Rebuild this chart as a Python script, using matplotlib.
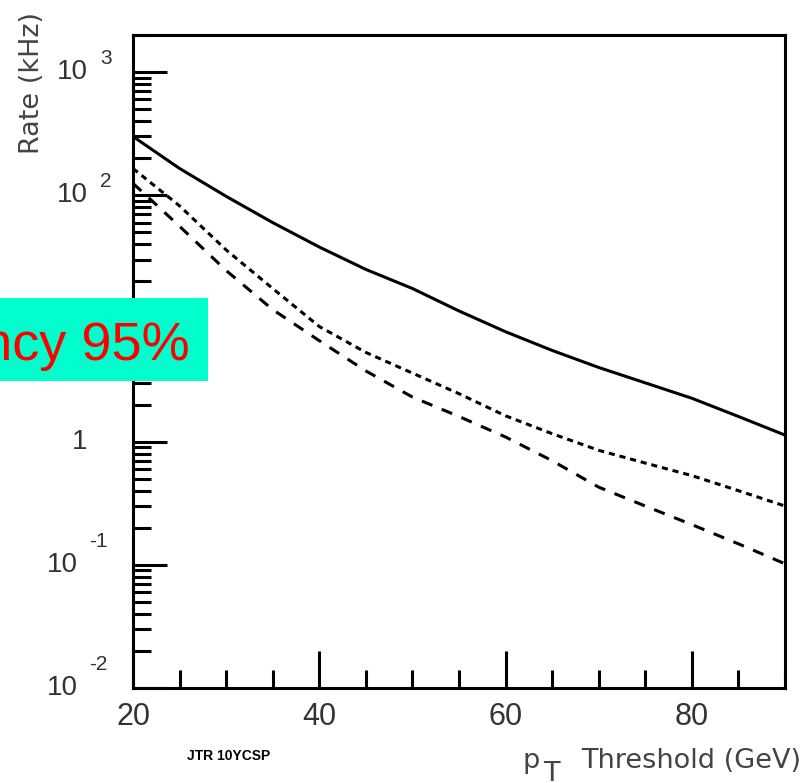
import matplotlib
matplotlib.use('Agg')
import matplotlib.pyplot as plt
from matplotlib.patches import Rectangle
from matplotlib.ticker import FixedLocator, MultipleLocator, NullFormatter
from matplotlib.transforms import blended_transform_factory, offset_copy

# trigger rate vs pT threshold (kHz)
pt_threshold = [20, 25, 30, 35, 40, 45, 50, 55, 60, 65, 70, 75, 80, 85, 90]
rate_top = [300, 165, 98, 60, 38, 25, 17.5, 11.5, 7.8, 5.5, 4.0, 3.0, 2.25, 1.6, 1.13]
rate_mid = [165, 82, 36, 17.5, 8.6, 5.3, 3.6, 2.45, 1.62, 1.16, 0.85, 0.67, 0.53, 0.40, 0.30]
rate_low = [125, 56, 24.5, 11.8, 6.6, 3.75, 2.3, 1.6, 1.09, 0.70, 0.427, 0.30, 0.212, 0.148, 0.102]

decades = [-2, -1, 0, 1, 2, 3]
labelled_decades = [-2, -1, 0, 2, 3]   # 10^1 sits under the efficiency tag
x_ticks = [20, 40, 60, 80]

W, H = 804, 783


def fx(px):
    return px / W


def fy(py):
    return 1 - py / H


fig = plt.figure(figsize=(W / 100, H / 100), dpi=100)
fig.patch.set_facecolor('white')
ax = fig.add_axes([fx(133), fy(688), fx(785) - fx(133), fy(35) - fy(688)])

lw = 2.2
ax.plot(pt_threshold, rate_top, color='black', lw=lw, solid_capstyle='butt')
ax.plot(pt_threshold, rate_mid, color='black', lw=lw, linestyle=(0, (2.0, 1.6)))
ax.plot(pt_threshold, rate_low, color='black', lw=lw, linestyle=(0, (3.7, 3.3)))

ax.set_yscale('log')
ax.set_xlim(20, 90)
ax.set_ylim(0.01, 2000)

for sp in ax.spines.values():
    sp.set_linewidth(lw)
    sp.set_color('black')

# x axis: ticks point inward
ax.xaxis.set_major_locator(FixedLocator(x_ticks))
ax.xaxis.set_minor_locator(MultipleLocator(5))
ax.set_xticklabels([str(t) for t in x_ticks], fontsize=22,
                   family='Liberation Sans', color='#333333')
ax.tick_params(axis='x', which='major', direction='in', length=26.5, width=lw,
               pad=10, top=False)
ax.tick_params(axis='x', which='minor', direction='in', length=13, width=lw,
               top=False)

# y axis: decades with 2..9 minor ticks, labels drawn by hand
ax.yaxis.set_major_locator(FixedLocator([10.0 ** e for e in decades]))
minor_y = [m * 10.0 ** e for e in decades for m in range(2, 10) if m * 10.0 ** e <= 2000]
ax.yaxis.set_minor_locator(FixedLocator(minor_y))
ax.yaxis.set_major_formatter(NullFormatter())
ax.yaxis.set_minor_formatter(NullFormatter())
ax.tick_params(axis='y', which='major', direction='in', length=24.5, width=lw,
               right=False, labelleft=False)
ax.tick_params(axis='y', which='minor', direction='in', length=13, width=lw,
               right=False, labelleft=False)

trans = blended_transform_factory(fig.transFigure, ax.transData)
label_kw = dict(family='Liberation Sans', color='#333333', transform=trans)
for e in labelled_decades:
    v = 10.0 ** e
    if e == 0:
        fig.text(fx(80), v, '1', ha='center', va='center', fontsize=20, **label_kw)
        continue
    base_x = 88 if e > 0 else 78
    exp_x = 100 if e > 0 else 89
    lift = 8 if e > 0 else 18
    fig.text(fx(base_x), v, '10', ha='right', va='center', fontsize=20, **label_kw)
    fig.text(fx(exp_x), v, str(e), ha='left', va='baseline', fontsize=15,
             family='Liberation Sans', color='#333333',
             transform=offset_copy(trans, fig=fig, x=0, y=lift, units='dots'))

# axis titles
title_kw = dict(family='DejaVu Sans', fontsize=19.5, color='#444444')
fig.text(fx(32), fy(83), 'Rate (kHz)', rotation=90, ha='center', va='center', **title_kw)
fig.text(fx(523), fy(768), 'p', ha='left', va='baseline', **title_kw)
fig.text(fx(543), fy(781), 'T', ha='left', va='baseline', **title_kw)
fig.text(fx(581), fy(768), 'Threshold (GeV)', ha='left', va='baseline', **title_kw)

fig.text(fx(229), fy(756), 'JTR 10YCSP', ha='center', va='center', fontsize=10,
         fontweight='bold', family='Liberation Sans', color='black')

# efficiency tag
fig.add_artist(Rectangle((0, fy(381)), fx(208), (381 - 298) / H,
                         transform=fig.transFigure, facecolor='#00FFCC',
                         edgecolor='none', zorder=10))
fig.text(fx(190), fy(360), 'Efficiency 95%', ha='right', va='baseline',
         fontsize=39, family='Liberation Sans', color='#FF0000', zorder=11)

fig.savefig('out.png', dpi=100, facecolor='white')
